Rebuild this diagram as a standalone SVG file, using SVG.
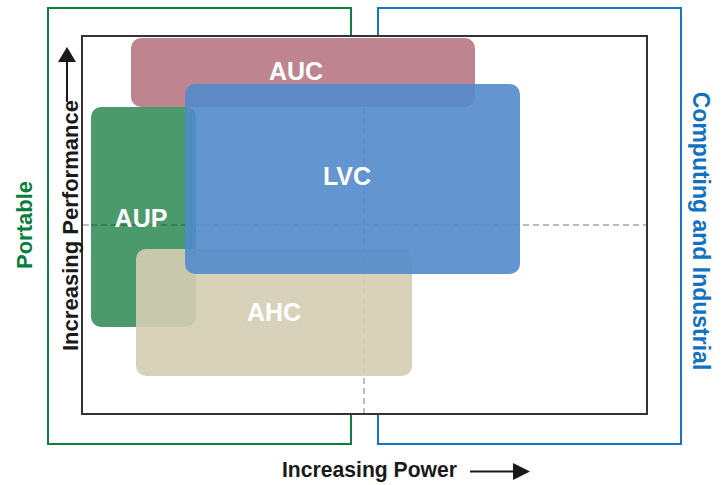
<svg xmlns="http://www.w3.org/2000/svg" width="726" height="485" viewBox="0 0 726 485">
  <defs>
    <style>
      .lbl { font-family: "Liberation Sans", Arial, sans-serif; font-weight: bold; }
      .box-text { fill: #ffffff; font-size: 25px; text-anchor: middle; }
      .axis { fill: #1a1a1a; font-size: 22px; }
      .dash { fill: none; stroke: #a8a8a8; stroke-width: 1.5; stroke-dasharray: 6 4; }
      .box { opacity: 0.9; }
    </style>
  </defs>
  <rect width="726" height="485" fill="#ffffff"/>

  <g id="region-portable">
    <rect x="48" y="8" width="303" height="436" fill="none" stroke="#0e7f3e" stroke-width="2"/>
    <text class="lbl" transform="translate(32,225) rotate(-90)" text-anchor="middle" font-size="22" fill="#0a7d3c">Portable</text>
  </g>
  <g id="region-computing">
    <rect x="378" y="8" width="303" height="436" fill="none" stroke="#1576c2" stroke-width="2"/>
    <text class="lbl" transform="translate(693,231) rotate(90)" text-anchor="middle" font-size="23" fill="#1272c0">Computing and Industrial</text>
  </g>

  <g id="plot-frame">
    <rect x="82" y="36" width="565" height="378" fill="#ffffff" stroke="#333333" stroke-width="2"/>
  </g>

  <g id="node-AUC">
    <rect x="131" y="38" width="344" height="69" rx="10" fill="#be8490"/>
    <text class="lbl box-text" x="296" y="80">AUC</text>
  </g>

  <g id="connectors">
    <line class="dash" x1="83" y1="225" x2="646" y2="225"/>
    <line class="dash" x1="364" y1="108" x2="364" y2="413"/>
  </g>

  <g id="node-AUP">
    <rect x="91" y="107" width="105" height="220" rx="10" fill="#4a9a6c"/>
    <line x1="91" y1="225" x2="185" y2="225" stroke="#2c774c" stroke-width="1.5" stroke-dasharray="6 4"/>
    <text class="lbl box-text" x="141" y="227">AUP</text>
  </g>

  <g id="node-AHC">
    <rect class="box" x="136" y="249" width="276" height="127" rx="10" fill="#d5cdb4"/>
    <text class="lbl box-text" x="274" y="321">AHC</text>
  </g>

  <g id="node-LVC">
    <rect class="box" x="185" y="84" width="335" height="190" rx="10" fill="#528bcb"/>
    <text class="lbl box-text" x="347" y="185">LVC</text>
  </g>

  <g id="axis-y">
    <line x1="67" y1="102" x2="67" y2="60" stroke="#1a1a1a" stroke-width="2"/>
    <polygon points="67,47 76,62 58,62" fill="#1a1a1a"/>
    <text class="lbl axis" transform="translate(78,351) rotate(-90)" textLength="251" lengthAdjust="spacingAndGlyphs">Increasing Performance</text>
  </g>
  <g id="axis-x">
    <text class="lbl axis" x="282" y="477" textLength="175" lengthAdjust="spacingAndGlyphs">Increasing Power</text>
    <line x1="470" y1="471.5" x2="515" y2="471.5" stroke="#1a1a1a" stroke-width="2"/>
    <polygon points="530,471.5 513,463 513,480" fill="#1a1a1a"/>
  </g>
</svg>
